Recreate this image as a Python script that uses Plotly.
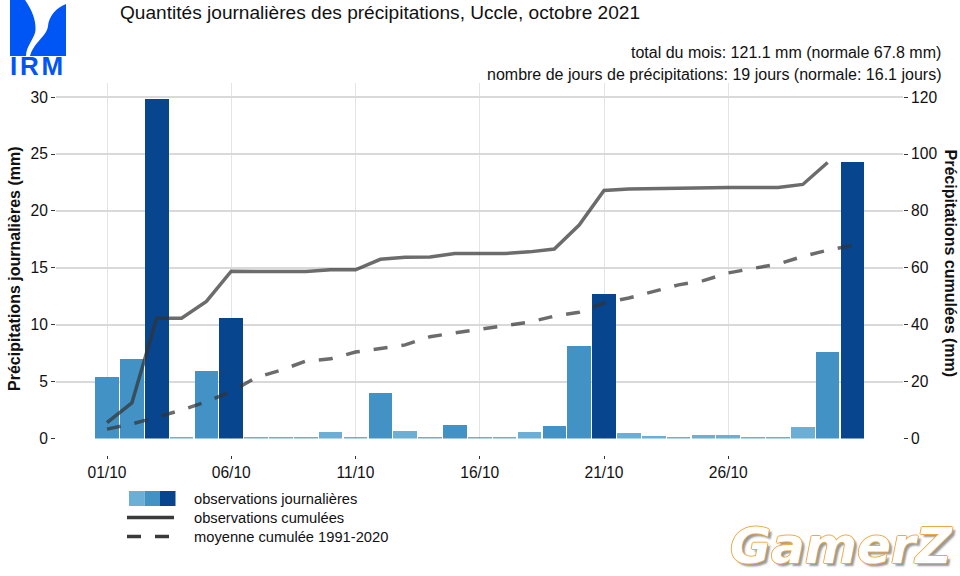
import plotly.graph_objects as go

# daily rain (mm)
days = list(range(1, 32))
daily_mm = [5.4, 7.0, 29.8, 0.1, 5.9, 10.6, 0.1, 0.1, 0.1, 0.6, 0.1, 4.0, 0.7, 0.1, 1.2, 0.1,
            0.1, 0.6, 1.1, 8.1, 12.7, 0.5, 0.2, 0.1, 0.3, 0.3, 0.1, 0.1, 1.0, 7.6, 24.3]
# the observed curve stops on the 30th in the original
cumul_days = days[:30]
cumul_mm = [5.6, 12.5, 42.3, 42.3, 48.2, 58.8, 58.7, 58.7, 58.7, 59.3, 59.3, 63.0, 63.7, 63.8, 65.0,
            65.0, 65.0, 65.6, 66.6, 75.0, 87.2, 87.7, 87.9, 87.9, 88.0, 88.2, 88.2, 88.2, 89.3, 97.0]
normal_mm = [3.3, 5.1, 7.5, 10.0, 12.9, 16.5, 21.4, 24.0, 27.2, 28.0, 30.4, 31.8, 32.9, 35.8, 37.2,
             38.4, 39.7, 40.9, 43.0, 44.4, 47.6, 49.4, 51.8, 54.0, 55.5, 58.2, 59.8, 61.3, 64.0, 66.2, 67.8]
tick_days = [1, 6, 11, 16, 21, 26]
tick_labels = ['01/10', '06/10', '11/10', '16/10', '21/10', '26/10']

LIGHT, MID, DARK = '#6baed6', '#4292c6', '#08458f'
FONT = 'Liberation Sans'
TXT = '#111111'


def bar_colour(v):
    if v >= 10:
        return DARK
    if v > 1:
        return MID
    return LIGHT


# page pixels to paper coordinates (plot area runs 56..903 across)
def px(x):
    return (x - 56) / 847


def py(y):
    return 1 - y / 576


def path(cmds):
    out = []
    for c in cmds:
        out.append(c[0] + ' '.join(f'{px(c[i])},{py(c[i + 1])}' for i in range(1, len(c), 2)))
    return ' '.join(out) + ' Z'


fig = go.Figure()
fig.add_trace(go.Bar(x=days, y=daily_mm, width=0.95, marker_color=[bar_colour(v) for v in daily_mm],
                     marker_line_width=0, name='observations journalières'))
fig.add_trace(go.Scatter(x=cumul_days, y=cumul_mm, mode='lines', yaxis='y2', name='observations cumulées',
                         line=dict(color='rgba(51,51,51,0.72)', width=3.5)))
fig.add_trace(go.Scatter(x=days, y=normal_mm, mode='lines', yaxis='y2', name='moyenne cumulée 1991-2020',
                         line=dict(color='rgba(51,51,51,0.72)', width=3.5, dash='14px,14px')))

shapes = []
# IRM logo
logo = '#0055f5'
shapes.append(dict(type='path', xref='paper', yref='paper', fillcolor=logo, line_width=0, path=path([
    ('M', 10, 0), ('L', 25, 0), ('C', 32, 10, 36, 20, 35.5, 30), ('C', 35, 38, 26, 46, 26, 56), ('L', 10, 56)])))
shapes.append(dict(type='path', xref='paper', yref='paper', fillcolor=logo, line_width=0, path=path([
    ('M', 66, 4), ('C', 56, 8, 49, 16, 48, 26), ('C', 47, 36, 34, 42, 30, 56), ('L', 66, 56)])))
# legend keys
for i, col in enumerate([LIGHT, MID, DARK]):
    shapes.append(dict(type='rect', xref='paper', yref='paper', fillcolor=col, line_width=0,
                       x0=px(129 + i * 15.5), x1=px(144.5 + i * 15.5), y0=py(491), y1=py(506)))
shapes.append(dict(type='line', xref='paper', yref='paper', x0=px(127), x1=px(174), y0=py(517.5), y1=py(517.5),
                   line=dict(color='#3a3a3a', width=3.5)))
shapes.append(dict(type='line', xref='paper', yref='paper', x0=px(127), x1=px(174), y0=py(536.5), y1=py(536.5),
                   line=dict(color='#3a3a3a', width=3.5, dash='14px,14px')))


def note(x, y, text, size=14, anchor='left', **kw):
    font = dict(family=FONT, size=size, color=TXT)
    font.update(kw.pop('font', {}))
    return dict(xref='paper', yref='paper', x=px(x), y=py(y), text=text, showarrow=False,
                xanchor=anchor, yanchor='middle', font=font, **kw)


gap = '<span style="font-size:10px"> </span>'
annotations = [
    note(943, 52, 'total du mois: 121.1 mm (normale 67.8 mm)', 16, 'right'),
    note(943, 74, 'nombre de jours de précipitations: 19 jours (normale: 16.1 jours)', 16, 'right'),
    note(192, 499, 'observations journalières', 14.7),
    note(192, 518, 'observations cumulées', 14.7),
    note(192, 537, 'moyenne cumulée 1991-2020', 14.7),
    note(14, 269, 'Précipitations journalières (mm)', 16, 'center', textangle=-90, font=dict(weight='bold')),
    note(950, 263.5, 'Précipitations cumulées (mm)', 16, 'center', textangle=90, font=dict(weight='bold')),
    note(8, 66, f'<b>I{gap}R{gap}M</b>', 26, font=dict(color=logo)),
    note(841, 546, '<b><i>GamerZ</i></b>', 50, 'center', font=dict(
        family='DejaVu Sans', color='#ffffff',
        shadow='1px 0 0 #f0a848, -1px 0 0 #f0a848, 0 1px 0 #f0a848, 0 -1px 0 #f0a848, 3px 3px 2px #999999')),
]

fig.update_layout(
    width=960, height=576, autosize=False, paper_bgcolor='white', plot_bgcolor='white',
    margin=dict(l=56, r=57, t=0, b=0, autoexpand=False), showlegend=False, bargap=0,
    font=dict(family=FONT, color=TXT),
    title=dict(text='Quantités journalières des précipitations, Uccle, octobre 2021', font=dict(family=FONT, size=19.1, color=TXT),
               xref='paper', yref='container', x=px(120), xanchor='left', y=1 - 12 / 576, yanchor='middle',
               pad=dict(l=0, r=0, t=0, b=0)),
    xaxis=dict(range=[1 - 51 / 24.85, 1 + 796 / 24.85], tickvals=tick_days, ticktext=tick_labels, tickfont=dict(size=15.6),
               anchor='free', position=py(455), ticks='outside', ticklen=3, tickcolor='#333333', tickwidth=1,
               showline=False, zeroline=False, gridcolor='#e4e4e4', gridwidth=1.2),
    yaxis=dict(domain=[py(438.5), py(83)], range=[0, 31.24], tickvals=[0, 5, 10, 15, 20, 25, 30], tickfont=dict(size=15.6),
               ticks='outside', ticklen=4, tickcolor='#333333', tickwidth=1,
               showline=False, zeroline=False, gridcolor='#d9d9d9', gridwidth=1.5),
    yaxis2=dict(overlaying='y', side='right', range=[0, 124.96], tickvals=[0, 20, 40, 60, 80, 100, 120], tickfont=dict(size=15.6),
                ticks='outside', ticklen=4, tickcolor='#333333', tickwidth=1,
                showline=False, zeroline=False, showgrid=False),
    shapes=shapes, annotations=annotations,
)

# the page's default body margin would push the 960x576 figure out of the window
fig.write_html("out.html", config={'displayModeBar': False},
               post_script="document.body.style.margin='0';document.body.style.overflow='hidden';")
